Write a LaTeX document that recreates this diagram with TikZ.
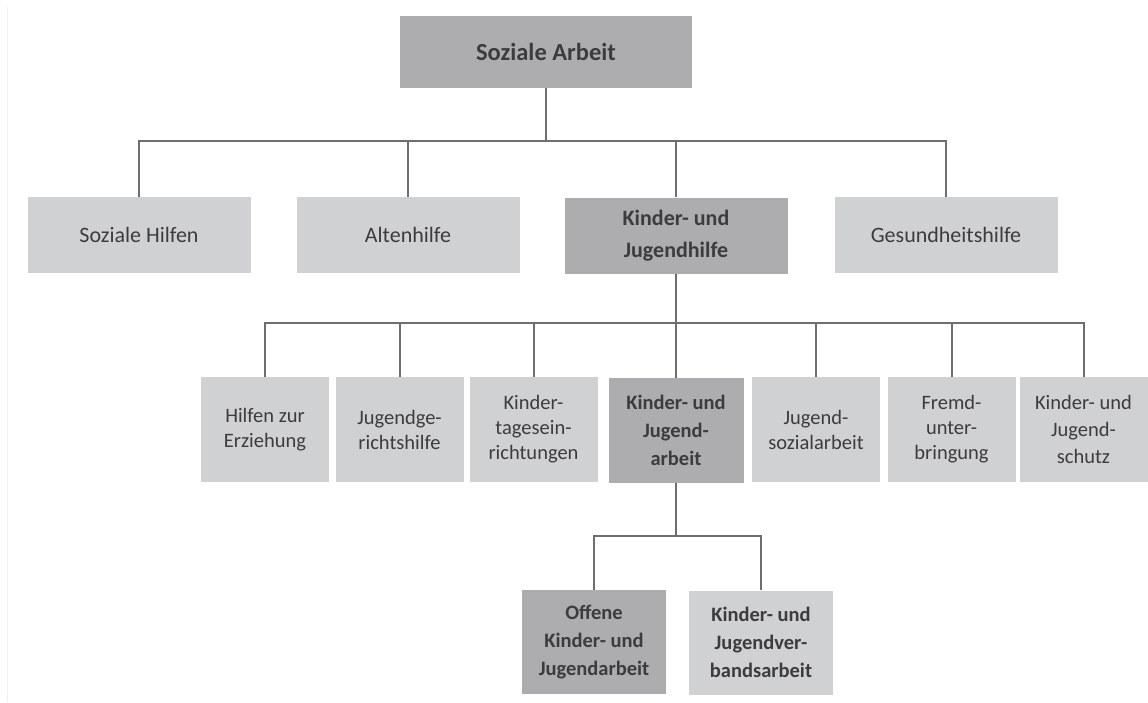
\documentclass[tikz,border=0pt]{standalone}
\usepackage{fontspec}
\setmainfont{Carlito}
\usepackage{tikz}
\usetikzlibrary{positioning, calc}
\definecolor{darkfill}{HTML}{ADADAF}
\definecolor{lightfill}{HTML}{D0D1D3}
\definecolor{linecol}{HTML}{6E6E6E}
\definecolor{textcol}{HTML}{3C3C3C}
\tikzset{
  box/.style={inner sep=0pt, align=center, text=textcol},
  lightbox/.style={box, fill=lightfill},
  darkbox/.style={box, fill=darkfill},
  lvltwo/.style={minimum width=223pt, minimum height=76pt,
                 font=\fontsize{22}{32}\selectfont},
  lvlthree/.style={minimum width=128pt, minimum height=105pt,
                   font=\fontsize{20.5}{25}\selectfont},
  lvlfour/.style={minimum width=144pt, minimum height=104pt,
                  font=\fontsize{20.5}{28}\selectfont\bfseries},
  connector/.style={draw=linecol, line width=2pt},
}

\begin{document}
\begin{tikzpicture}[x=1pt, y=-1pt]
  \useasboundingbox[fill=white] (0,0) rectangle (1148,702);
  \draw[gray!12, line width=1pt] (7,7) -- (7,702);

  % top
  \node[darkbox, minimum width=292pt, minimum height=72pt,
        font=\fontsize{24.5}{30}\selectfont\bfseries] (arbeit) at (546,52) {Soziale Arbeit};

  % second level
  \node[lightbox, lvltwo] (hilfen) at (139,235) {Soziale Hilfen};
  \node[lightbox, lvltwo] (alten) at (408,235) {Altenhilfe};
  \node[darkbox, lvltwo, font=\fontsize{22}{32}\selectfont\bfseries] (kjhilfe) at (676,235.5) {Kinder- und\\Jugendhilfe};
  \node[lightbox, lvltwo] (gesund) at (946,235) {Gesundheitshilfe};

  % third level
  \node[lightbox, lvlthree] (erziehung) at (265,429.5) {Hilfen zur\\Erziehung};
  \node[lightbox, lvlthree] (gericht) at (399.5,429.5) {Jugendge-\\richtshilfe};
  \node[lightbox, lvlthree] (tages) at (533.5,429.5) {Kinder-\\tagesein-\\richtungen};
  \node[darkbox, lvlthree, minimum width=135pt,
        font=\fontsize{20.5}{28}\selectfont\bfseries] (kjarbeit) at (676,430.5) {Kinder- und\\Jugend-\\arbeit};
  \node[lightbox, lvlthree] (sozial) at (816,429.5) {Jugend-\\sozialarbeit};
  \node[lightbox, lvlthree] (fremd) at (951.5,429.5) {Fremd-\\unter-\\bringung};
  \node[lightbox, lvlthree, font=\fontsize{20.5}{27}\selectfont] (schutz) at (1083.5,429.5) {Kinder- und\\Jugend-\\schutz};

  % fourth level
  \node[darkbox, lvlfour] (offen) at (594,642) {Offene\\Kinder- und\\Jugendarbeit};
  \node[lightbox, lvlfour] (verband) at (761,642.5) {Kinder- und\\Jugendver-\\bandsarbeit};

  % connectors
  \foreach \child in {hilfen, alten, kjhilfe, gesund}
    \draw[connector] (arbeit.south) -- ++(0,53) -| (\child.north);
  \foreach \child in {erziehung, gericht, tages, kjarbeit, sozial, fremd, schutz}
    \draw[connector] (kjhilfe.south) |- ++(0,49) -| (\child.north);
  \foreach \child in {offen, verband}
    \draw[connector] (kjarbeit.south) -- ++(0,53) -| (\child.north);
\end{tikzpicture}
\end{document}
